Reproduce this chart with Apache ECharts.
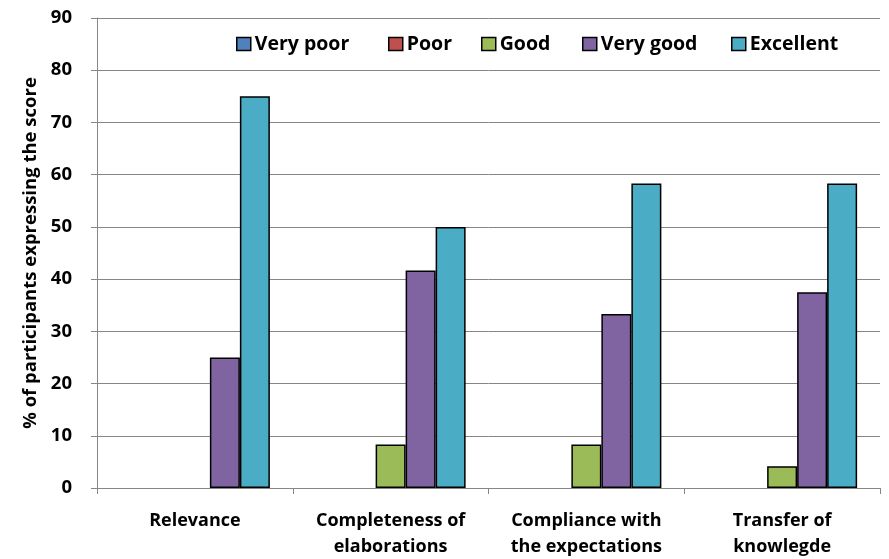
<!DOCTYPE html>
<html><head><meta charset="utf-8">
<script src="https://cdn.jsdelivr.net/npm/echarts@6/dist/echarts.min.js"></script>
<style>html,body{margin:0;padding:0;background:#fff}#c{width:889px;height:559px}</style>
</head><body><div id="c"></div>
<script>
const categories = ['Relevance', 'Completeness of\nelaborations', 'Compliance with\nthe expectations', 'Transfer of\nknowlegde'];
const seriesNames = ['Very poor', 'Poor', 'Good', 'Very good', 'Excellent'];
const veryPoor = [0, 0, 0, 0];
const poor = [0, 0, 0, 0];
const good = [0, 8.33, 8.33, 4.17];
const veryGood = [25, 41.67, 33.33, 37.5];
const excellent = [75, 50, 58.33, 58.33];
const yTicks = [0, 10, 20, 30, 40, 50, 60, 70, 80, 90];
const colors = ['#4F81BD', '#C0504D', '#9BBB59', '#8064A2', '#4BACC6'];
const values = [veryPoor, poor, good, veryGood, excellent];
const legendX = [236, 388, 481, 582, 731];

const font = '"Open Sans", sans-serif';
const chart = echarts.init(document.getElementById('c'));
chart.setOption({
  animation: false,
  textStyle: { fontFamily: font },
  legend: seriesNames.map((n, i) => ({
    data: [n], left: legendX[i], top: 34, padding: 0,
    itemWidth: 14, itemHeight: 13, itemGap: 0,
    icon: 'rect',
    itemStyle: { borderColor: '#000', borderWidth: 1.5 },
    textStyle: { fontFamily: font, fontWeight: 700, fontSize: 19.5, color: '#000', padding: [0, 0, 0, -1] },
    selectedMode: false
  })),
  grid: { left: 97, right: 9, top: 18, bottom: 71, outerBoundsMode: 'none' },
  xAxis: {
    type: 'category', data: categories,
    axisLine: { lineStyle: { color: '#868686', width: 1 } },
    axisTick: { show: true, interval: 0, length: 6, lineStyle: { color: '#868686' } },
    axisLabel: { interval: 0, hideOverlap: false, color: '#000', fontWeight: 700, fontSize: 18, margin: 20, lineHeight: 26, fontFamily: font }
  },
  yAxis: {
    type: 'value', min: yTicks[0], max: yTicks[yTicks.length - 1], interval: 10,
    name: '% of participants expressing the score',
    nameLocation: 'middle', nameGap: 54, nameRotate: 90,
    nameTextStyle: { color: '#000', fontWeight: 700, fontSize: 18.5, fontFamily: font },
    axisLine: { show: true, lineStyle: { color: '#868686' } },
    axisTick: { show: true, length: 6, lineStyle: { color: '#868686' } },
    axisLabel: { color: '#000', fontWeight: 700, fontSize: 18.5, margin: 25, fontFamily: font },
    splitLine: { lineStyle: { color: '#868686', width: 1 } }
  },
  series: seriesNames.map((n, i) => ({
    name: n, type: 'bar',
    data: values[i].map(v => v === 0 ? '-' : v),
    barWidth: 30, barGap: '0%',
    itemStyle: { color: colors[i], borderColor: '#000', borderWidth: 1.5 }
  }))
});
</script></body></html>
